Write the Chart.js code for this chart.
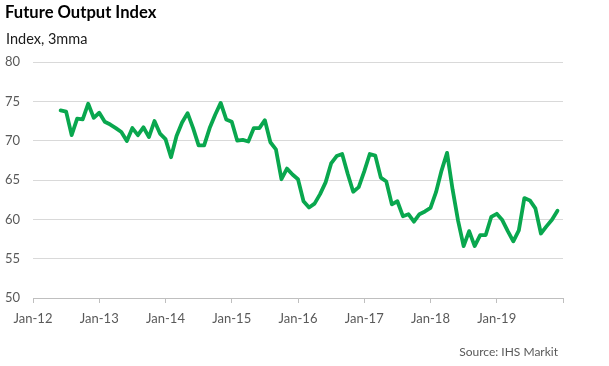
<!DOCTYPE html>
<html><head><meta charset="utf-8">
<script src="https://cdn.jsdelivr.net/npm/chart.js@4.4.1/dist/chart.umd.min.js"></script>
<style>
html,body{margin:0;padding:0;background:#fff;}
#wrap{position:relative;width:609px;height:366px;overflow:hidden;}
canvas{position:absolute;left:0;top:0;}
.t{position:absolute;font-family:Lato,"Open Sans",sans-serif;white-space:nowrap;line-height:1;}
#title{left:5px;top:4px;font-size:16.6px;font-weight:bold;color:#000;}
#sub{left:6px;top:32px;font-size:14.5px;color:#1a1a1a;}
#src{right:51px;top:346px;font-size:12px;color:#595959;}
</style></head>
<body><div id="wrap">
<canvas id="c" width="609" height="366"></canvas>
<div class="t" id="title">Future Output Index</div>
<div class="t" id="sub">Index, 3mma</div>
<div class="t" id="src">Source: IHS Markit</div>
</div>
<script>
const months = [
  'Jun-12','Jul-12','Aug-12','Sep-12','Oct-12','Nov-12','Dec-12',
  'Jan-13','Feb-13','Mar-13','Apr-13','May-13','Jun-13','Jul-13','Aug-13','Sep-13','Oct-13','Nov-13','Dec-13',
  'Jan-14','Feb-14','Mar-14','Apr-14','May-14','Jun-14','Jul-14','Aug-14','Sep-14','Oct-14','Nov-14','Dec-14',
  'Jan-15','Feb-15','Mar-15','Apr-15','May-15','Jun-15','Jul-15','Aug-15','Sep-15','Oct-15','Nov-15','Dec-15',
  'Jan-16','Feb-16','Mar-16','Apr-16','May-16','Jun-16','Jul-16','Aug-16','Sep-16','Oct-16','Nov-16','Dec-16',
  'Jan-17','Feb-17','Mar-17','Apr-17','May-17','Jun-17','Jul-17','Aug-17','Sep-17','Oct-17','Nov-17','Dec-17',
  'Jan-18','Feb-18','Mar-18','Apr-18','May-18','Jun-18','Jul-18','Aug-18','Sep-18','Oct-18','Nov-18','Dec-18',
  'Jan-19','Feb-19','Mar-19','Apr-19','May-19','Jun-19','Jul-19','Aug-19','Sep-19','Oct-19','Nov-19','Dec-19'
];
const futureOutput = [
  73.85,73.7,70.7,72.8,72.7,74.7,72.9,
  73.55,72.4,72.05,71.6,71.1,69.95,71.6,70.7,71.7,70.45,72.5,70.9,
  70.2,67.9,70.6,72.3,73.5,71.6,69.4,69.4,71.6,73.3,74.8,72.7,
  72.4,70.0,70.1,69.9,71.6,71.6,72.6,69.8,68.9,65.1,66.45,65.7,
  65.1,62.3,61.5,62.0,63.2,64.7,67.1,68.05,68.3,65.8,63.5,64.1,
  66.1,68.3,68.1,65.3,64.8,61.9,62.3,60.4,60.65,59.7,60.65,61.0,
  61.45,63.45,66.2,68.45,63.8,59.8,56.6,58.5,56.6,58.0,58.0,60.3,
  60.7,59.9,58.5,57.2,58.6,62.7,62.4,61.4,58.2,59.1,59.95,61.1
];
const tickLabels = ['Jan-12','Jan-13','Jan-14','Jan-15','Jan-16','Jan-17','Jan-18','Jan-19',''];
const yMin = 50, yMax = 80, yStep = 5;

const monthNames = ['Jan','Feb','Mar','Apr','May','Jun','Jul','Aug','Sep','Oct','Nov','Dec'];
function monthIndex(lbl){
  const [m, y] = lbl.split('-');
  return (parseInt(y,10) - 12) * 12 + monthNames.indexOf(m);
}
const points = months.map((m,i)=>({x: monthIndex(m), y: futureOutput[i]}));
const tickValues = tickLabels.map((_, i) => i * 12);

new Chart(document.getElementById('c').getContext('2d'), {
  type: 'line',
  data: { datasets: [{
    data: points, borderColor: '#09a74e', borderWidth: 3.8,
    pointRadius: 0, tension: 0, fill: false, borderJoinStyle: 'round', borderCapStyle: 'round'
  }]},
  options: {
    responsive: false, animation: false, devicePixelRatio: 1,
    layout: { padding: { top: 62, right: 46, left: 0, bottom: 0 } },
    plugins: { legend: { display: false }, tooltip: { enabled: false } },
    scales: {
      x: {
        type: 'linear', min: 0, max: tickValues[tickValues.length-1],
        afterBuildTicks: s => { s.ticks = tickValues.map(v => ({ value: v })); },
        ticks: {
          autoSkip: false, maxRotation: 0, padding: 8, color: '#595959',
          font: { family: 'Lato', size: 13 },
          callback: v => tickLabels[Math.round(v / 12)]
        },
        grid: { drawOnChartArea: false, drawTicks: true, tickLength: 5, color: '#bfbfbf' },
        border: { display: true, color: '#bfbfbf' },
        afterFit: s => { s.height = 68; }
      },
      y: {
        min: yMin, max: yMax,
        ticks: { stepSize: yStep, padding: 13, color: '#595959', font: { family: 'Lato', size: 13 } },
        grid: { color: '#d9d9d9', drawTicks: false },
        border: { display: false },
        afterFit: s => { s.width = 33; }
      }
    }
  }
});
</script>
</body></html>
